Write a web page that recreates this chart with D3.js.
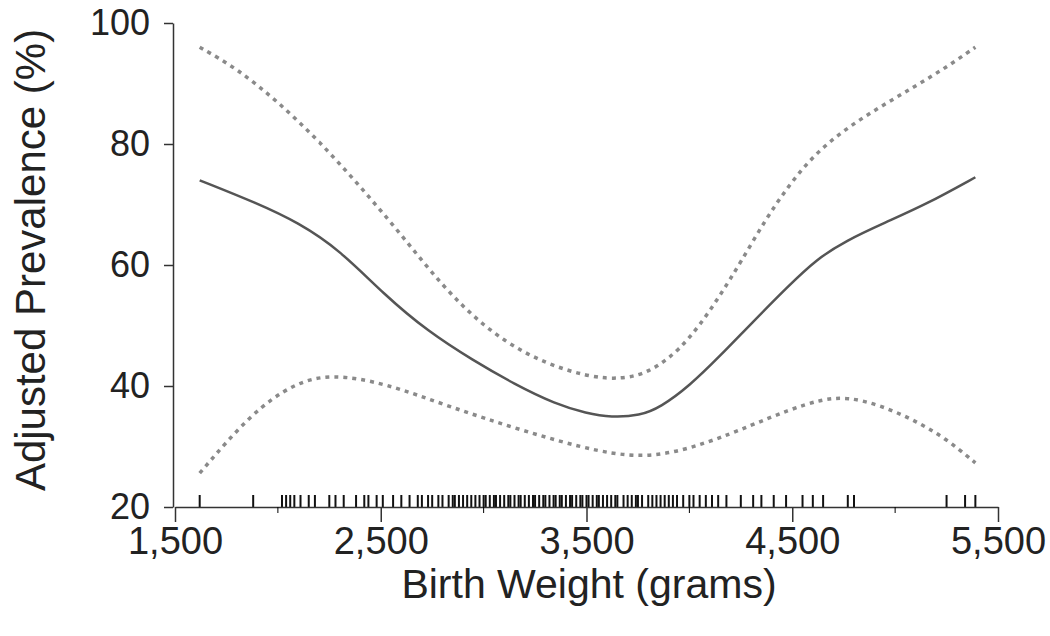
<!DOCTYPE html>
<html>
<head>
<meta charset="utf-8">
<script src="https://cdn.jsdelivr.net/npm/d3@7"></script>
<style>
    body { margin: 0; background: #fff; }
    text { font-family: "Liberation Sans", Arial, sans-serif; fill: #222; }
</style>
</head>
<body>
<div id="chart"></div>
<script>
var estWeight = [1620, 1900, 2100, 2300, 2520, 2730, 2950, 3150, 3350, 3500, 3620, 3760, 3860, 4000, 4150, 4300, 4480, 4620, 4760, 4950, 5150, 5390];
var estimate  = [74, 70.2, 67, 62.5, 55, 49, 44.2, 40.3, 37, 35.5, 34.8, 35.1, 36.5, 40, 45, 50.3, 56.5, 61, 64, 67, 70, 74.5];

var upperWeight = [1620, 1800, 2000, 2200, 2400, 2600, 2800, 3000, 3200, 3400, 3600, 3750, 3850, 3950, 4050, 4150, 4250, 4370, 4480, 4600, 4750, 4920, 5090, 5250, 5390];
var upperCI     = [96, 92.5, 87, 80.5, 73, 65, 56.5, 49.8, 45.3, 42.5, 41, 41.6, 43.3, 46, 50, 55, 60.5, 67.5, 73, 78, 82.3, 86, 89.4, 92.7, 96];

var lowerWeight = [1620, 1870, 2080, 2260, 2520, 2840, 3180, 3570, 3830, 4090, 4300, 4480, 4640, 4770, 4930, 5090, 5240, 5390];
var lowerCI     = [25.6, 35.5, 40.5, 42, 40.5, 36.5, 32.7, 28.9, 28.1, 30.6, 33.5, 36, 37.8, 38.2, 36.8, 34.4, 31.5, 27.3];

// rug of observed birth weights
var rugWeights = [1620, 1880, 2020, 2040, 2060, 2080, 2110, 2150, 2180, 2250, 2280, 2320, 2380, 2420, 2440, 2480,
    2510, 2560, 2600, 2640, 2680, 2700, 2730, 2750, 2780, 2800, 2830, 2850, 2860, 2880, 2900, 2920, 2940, 2960, 2980,
    3000, 3010, 3030, 3050, 3060, 3080, 3100, 3120, 3130, 3150, 3170, 3180, 3200, 3220, 3240, 3250, 3270, 3290,
    3300, 3320, 3340, 3350, 3370, 3380, 3400, 3420, 3430, 3450, 3470, 3480, 3500, 3510, 3530, 3550, 3560, 3580,
    3600, 3620, 3640, 3650, 3680, 3700, 3720, 3740, 3750, 3770, 3800, 3820, 3840, 3860, 3880, 3900, 3920, 3940,
    3970, 4000, 4020, 4050, 4080, 4110, 4140, 4180, 4250, 4310, 4350, 4410, 4470, 4550, 4600, 4650, 4770, 4800,
    5250, 5340, 5390];

var xTicks = [1500, 2500, 3500, 4500, 5500];
var xMinor = [2000, 3000, 4000, 5000];
var yTicks = [20, 40, 60, 80, 100];

var width = 1050, height = 636;

var svg = d3.select("#chart")
    .append("svg")
    .attr("width", width)
    .attr("height", height);

var x = d3.scaleLinear().domain([1500, 5500]).range([175, 998]);
var y = d3.scaleLinear().domain([20, 100]).range([507, 23]);

// curves
var line = d3.line()
    .x(d => x(d[0]))
    .y(d => y(d[1]))
    .curve(d3.curveBasis);

svg.append("path")
    .datum(d3.zip(upperWeight, upperCI))
    .attr("d", line)
    .attr("fill", "none")
    .attr("stroke", "#8a8a8a")
    .attr("stroke-width", 3.5)
    .attr("stroke-dasharray", "4,5");

svg.append("path")
    .datum(d3.zip(lowerWeight, lowerCI))
    .attr("d", line)
    .attr("fill", "none")
    .attr("stroke", "#8a8a8a")
    .attr("stroke-width", 3.5)
    .attr("stroke-dasharray", "4,5");

svg.append("path")
    .datum(d3.zip(estWeight, estimate))
    .attr("d", line)
    .attr("fill", "none")
    .attr("stroke", "#555")
    .attr("stroke-width", 2.5);

// rug
svg.selectAll("rug")
    .data(rugWeights)
    .enter()
    .append("line")
    .attr("x1", d => x(d))
    .attr("x2", d => x(d))
    .attr("y1", y(20))
    .attr("y2", y(20) - 12)
    .attr("stroke", "#111")
    .attr("stroke-width", 2);

// y axis
var yAxis = svg.append("g")
    .attr("transform", "translate(173,0)")
    .call(d3.axisLeft(y).tickValues(yTicks).tickSize(9).tickSizeOuter(0).tickPadding(14));

yAxis.selectAll("text")
    .style("font-size", "36px")
    .style("font-family", "'Liberation Sans', Arial, sans-serif")
    .attr("fill", "#222");

// x axis
var xAxis = svg.append("g")
    .attr("transform", "translate(0," + y(20) + ")")
    .call(d3.axisBottom(x).tickValues(xTicks).tickSize(15).tickSizeOuter(0).tickPadding(5).tickFormat(d3.format(",")));

xAxis.selectAll("text")
    .style("font-size", "38px")
    .style("font-family", "'Liberation Sans', Arial, sans-serif")
    .attr("fill", "#222");

xAxis.selectAll("minor")
    .data(xMinor)
    .enter()
    .append("line")
    .attr("x1", d => x(d))
    .attr("x2", d => x(d))
    .attr("y1", 0)
    .attr("y2", 6)
    .attr("stroke", "#000");

svg.selectAll(".domain, .tick line").attr("stroke", "#333").attr("stroke-width", 1.5);

// axis titles
svg.append("text")
    .attr("x", 589)
    .attr("y", 598)
    .attr("text-anchor", "middle")
    .style("font-size", "41px")
    .text("Birth Weight (grams)");

svg.append("text")
    .attr("transform", "translate(45,260)rotate(-90)")
    .attr("text-anchor", "middle")
    .style("font-size", "42px")
    .text("Adjusted Prevalence (%)");
</script>
</body>
</html>
